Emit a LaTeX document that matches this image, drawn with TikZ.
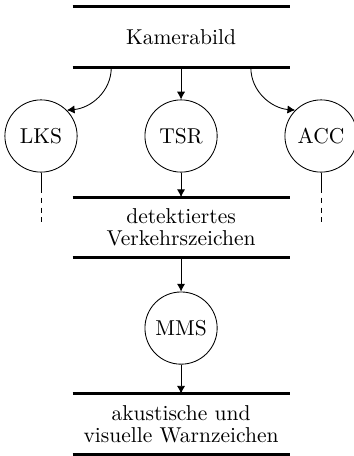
\documentclass[tikz,border=0pt]{standalone}
\usetikzlibrary{shapes,arrows,arrows.meta,positioning}

\begin{document}
\begin{tikzpicture}
	[
		modulenode/.style={circle, draw, thin, minimum size=11.8mm, inner sep=0pt},
		storenode/.style={rectangle, minimum width=35.3mm, minimum height=9.8mm, align=center, font={\linespread{0.85}\selectfont}},
		storeline/.style={line width=1.4pt},
		flow/.style={-{Latex[length=3.6pt,width=3.8pt]}},
		dashedcont/.style={dash pattern=on 2.3pt off 2.3pt, dash phase=2.3pt},
	]
	\useasboundingbox (0,0) rectangle (5.77,-7.45);

	\node [storenode] (kamera) at (2.958,-0.605) {Kamerabild};
	\node [modulenode] (lks) at (0.670,-2.222) {LKS};
	\node [modulenode] (tsr) at (2.958,-2.222) {TSR};
	\node [modulenode] (acc) at (5.245,-2.222) {ACC};
	\node [storenode] (verkehr) at (2.958,-3.717) {detektiertes\\Verkehrszeichen};
	\node [modulenode] (mms) at (2.958,-5.360) {MMS};
	\node [storenode] (warn) at (2.958,-6.928) {akustische und\\visuelle Warnzeichen};

	\foreach \s in {kamera,verkehr,warn} {
		\draw[storeline] (\s.north west) -- (\s.north east);
		\draw[storeline] (\s.south west) -- (\s.south east);
	}

	\coordinate (lksout) at ([xshift=-1.14cm]kamera.south);
	\coordinate (accout) at ([xshift=1.14cm]kamera.south);
	\coordinate (lksdash) at ([yshift=-0.33cm]lks.south);
	\coordinate (lksend) at ([yshift=-0.49cm]lksdash);
	\coordinate (accdash) at ([yshift=-0.33cm]acc.south);
	\coordinate (accend) at ([yshift=-0.49cm]accdash);

	\draw[flow] (lksout) to[out=-90, in=5] (lks.north east);
	\draw[flow] (accout) to[out=-90, in=175] (acc.north west);
	\draw[flow] (kamera.south) -- (tsr.north);
	\draw[flow] (tsr.south) -- (verkehr.north);
	\draw[flow] (verkehr.south) -- (mms.north);
	\draw[flow] (mms.south) -- (warn.north);

	\draw (lks.south) -- (lksdash);
	\draw[dashedcont] (lksdash) -- (lksend);
	\draw (acc.south) -- (accdash);
	\draw[dashedcont] (accdash) -- (accend);

\end{tikzpicture}
\end{document}
